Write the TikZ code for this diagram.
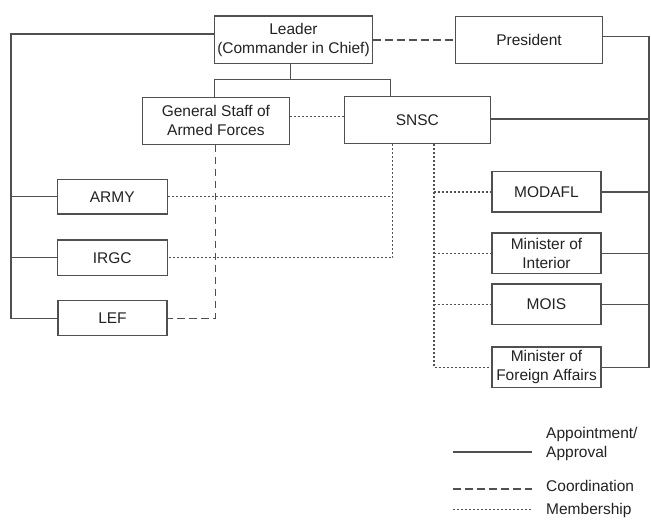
\documentclass[tikz,border=0pt]{standalone}
\usepackage{fontspec}
\setmainfont{Liberation Sans}
\definecolor{linec}{HTML}{505050}
\definecolor{textc}{HTML}{222222}
\begin{document}
\begin{tikzpicture}[x=1pt,y=-1pt,
  box/.style={draw=linec, line width=1.2pt, fill=white, text=textc,
    font=\fontsize{15.5}{19}\selectfont, align=center, inner sep=0pt},
  legtext/.style={text=textc, font=\fontsize{15.5}{19}\selectfont, align=left, inner sep=0pt, anchor=west},
  appt/.style={draw=linec, line width=1.2pt},
  coordl/.style={draw=linec, line width=1.2pt, dash pattern=on 7.5pt off 4.5pt},
  memb/.style={draw=linec, line width=1.2pt, dash pattern=on 2pt off 2pt},
]
\useasboundingbox (0,0) rectangle (651,525);

% boxes
\node[box, minimum width=157.8pt, minimum height=47.3pt] (leader) at (293.5,39.7) {Leader\\(Commander in Chief)};
\node[box, minimum width=146.4pt, minimum height=47pt] (pres) at (529,40) {President};
\node[box, minimum width=146.9pt, minimum height=47pt] (gsaf) at (215.9,120.8) {General Staff of\\Armed Forces};
\node[box, minimum width=146.6pt, minimum height=47pt] (snsc) at (417.4,119.8) {SNSC};
\node[box, minimum width=110pt, minimum height=34.7pt] (army) at (112.3,196.7) {ARMY};
\node[box, minimum width=110pt, minimum height=35.3pt] (irgc) at (112.3,257.7) {IRGC};
\node[box, minimum width=109pt, minimum height=35pt] (lef) at (112.5,318.2) {LEF};
\node[box, minimum width=109pt, minimum height=40.3pt] (modafl) at (546.5,191.9) {MODAFL};
\node[box, minimum width=109pt, minimum height=40.5pt] (moi) at (546.5,253.3) {Minister of\\Interior};
\node[box, minimum width=109pt, minimum height=40.5pt] (mois) at (546.5,304.2) {MOIS};
\node[box, minimum width=109pt, minimum height=40.5pt] (mofa) at (546.5,367.2) {Minister of\\Foreign Affairs};

% junction coordinates
\coordinate (lx) at (11,0);
\coordinate (rx) at (649,0);
\coordinate (split) at (0,79.3);
\coordinate (d1) at (392.7,0);
\coordinate (d2) at (434,0);
\coordinate (gx) at (215.4,0);

% appointment / approval (solid)
\draw[appt] (leader.west |- 0,34) -| (lx |- lef.west) -- (lef.west);
\draw[appt] (lx |- army.west) -- (army.west);
\draw[appt] (lx |- irgc.west) -- (irgc.west);
\draw[appt] (pres.east |- 0,36.7) -| (rx |- mofa.east) -- (mofa.east);
\draw[appt] (snsc.east |- 0,119) -- (rx |- 0,119);
\draw[appt] (modafl.east) -- (rx |- modafl.east);
\draw[appt] (moi.east) -- (rx |- moi.east);
\draw[appt] (mois.east) -- (rx |- mois.east);
\draw[appt] (leader.south -| 290.6,0) -- (split -| 290.6,0);
\draw[appt] (gsaf.north -| 214.6,0) -- (split -| 214.6,0) -- (split -| 390.2,0) -- (snsc.north -| 390.2,0);

% coordination (dashed)
\draw[coordl] (leader.east |- 0,40) -- (pres.west |- 0,40);
\draw[coordl] (gsaf.south -| gx) -- (gx |- lef.east) -- (lef.east);

% membership (dotted)
\draw[memb] (gsaf.east |- 0,116.7) -- (snsc.west |- 0,116.7);
\draw[memb] (snsc.south -| d1) -- (d1 |- irgc.east) -- (irgc.east);
\draw[memb] (army.east) -- (d1 |- army.east);
\draw[memb] (snsc.south -| d2) -- (d2 |- mofa.west) -- (mofa.west);
\draw[memb] (d2 |- modafl.west) -- (modafl.west);
\draw[memb] (d2 |- moi.west) -- (moi.west);
\draw[memb] (d2 |- mois.west) -- (mois.west);

% legend
\coordinate (la1) at (453,452); \coordinate (la2) at (532,452);
\coordinate (lb1) at (453,489); \coordinate (lb2) at (532,489);
\coordinate (lc1) at (453,509.5); \coordinate (lc2) at (532,509.5);
\draw[appt] (la1) -- (la2);
\draw[coordl] (lb1) -- (lb2);
\draw[memb] (lc1) -- (lc2);
\node[legtext] (ltA) at (546,443.5) {Appointment/\\Approval};
\node[legtext] (ltB) at (546,486) {Coordination};
\node[legtext] (ltC) at (546,510) {Membership};
\end{tikzpicture}
\end{document}
